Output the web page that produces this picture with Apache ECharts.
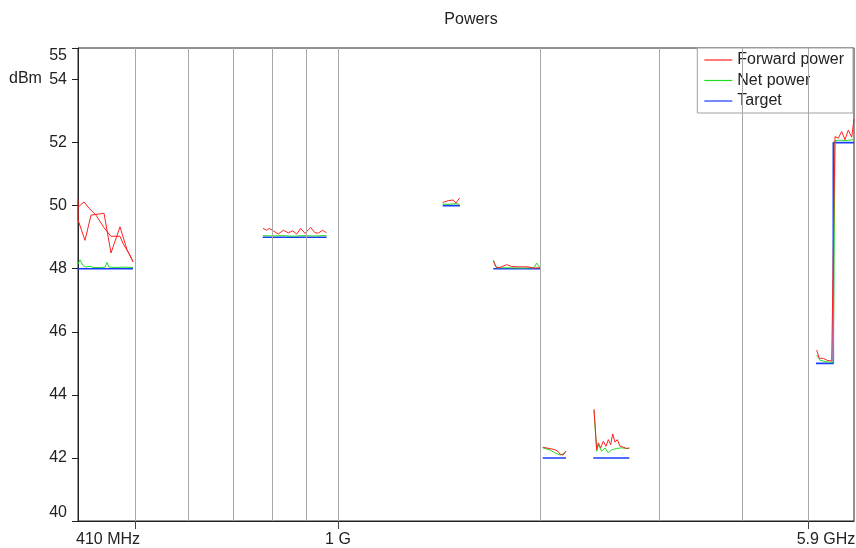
<!DOCTYPE html>
<html>
<head>
<meta charset="utf-8">
<script src="https://cdn.jsdelivr.net/npm/echarts@6/dist/echarts.min.js"></script>
<style>
  html, body { margin: 0; padding: 0; background: #fff; }
  #chart { width: 856px; height: 548px; }
</style>
</head>
<body>
<div id="chart"></div>
<script>
// x is the sweep position along the measurement run; labels mark the band edges
const gridLinesX = [57, 110, 155, 194, 228, 260, 462, 581, 664, 730];
const tickX = [57, 260, 730];
const tickLabels = ['410 MHz', '1 G', '5.9 GHz'];

const forwardSegs = [
  [[0, 49.95], [6, 50.12], [11, 49.92], [18, 49.7], [26, 49.3], [33, 49.03], [42, 49.03], [45, 48.8], [52, 48.43], [55, 48.22],
   [55, 48.2], [49, 48.6], [42, 49.33], [33, 48.5], [26, 49.76], [13, 49.7], [7, 48.9], [0, 49.55], [0, 50.2]],
  [[185, 49.28], [188.7, 49.22], [191.3, 49.28], [195.3, 49.2], [200.3, 49.1], [205.3, 49.22], [210.3, 49.14], [214.7, 49.2],
   [218.7, 49.1], [222.7, 49.28], [227, 49.12], [232.7, 49.31], [237, 49.14], [240.3, 49.13], [244.7, 49.22], [248.5, 49.14]],
  [[364.7, 50.1], [370.3, 50.16], [375.3, 50.18], [378, 50.08], [381.5, 50.24]],
  [[415.3, 48.25], [418, 48.05], [422, 48.04], [428.7, 48.13], [433.7, 48.07], [440, 48.06], [450, 48.06], [455, 48.02], [462, 48.03]],
  [[464.7, 42.34], [471, 42.3], [476, 42.27], [480, 42.21], [482, 42.12], [485, 42.09], [488, 42.21]],
  [[516, 43.55], [518.7, 42.26], [520.3, 42.48], [522.7, 42.32], [525.3, 42.53], [528, 42.37], [530.3, 42.58], [532.7, 42.42],
   [534.7, 42.76], [537, 42.5], [539.3, 42.58], [542, 42.37], [545.3, 42.34], [548.7, 42.3], [551.3, 42.32]],
  [[738.7, 45.42], [741.3, 45.16], [745.3, 45.16], [748.7, 45.1], [753.7, 45.07], [755.3, 45.05], [757, 52.19], [760.3, 52.14],
   [763.7, 52.35], [767, 52.09], [770.3, 52.4], [773.7, 52.17], [776, 52.75]]
];

const netSegs = [
  [[0, 48.15], [2, 48.28], [5, 48.1], [8, 48.05], [12, 48.08], [15, 48.04], [22, 48.04], [27, 48.05], [29, 48.2], [31, 48.05],
   [38, 48.04], [45, 48.05], [55, 48.04]],
  [[185, 49.05], [195, 49.04], [205, 49.05], [215, 49.03], [225, 49.05], [235, 49.04], [248.5, 49.05]],
  [[364.7, 50.05], [370, 50.04], [376, 50.06], [381.5, 50.05]],
  [[415.3, 48.27], [418.7, 48.03], [430, 48.03], [445, 48.02], [456, 48.03], [458.7, 48.18], [462, 48.03]],
  [[464.7, 42.32], [472, 42.25], [477, 42.16], [482, 42.09], [485, 42.13], [488, 42.22]],
  [[516, 43.5], [518.7, 42.21], [520.3, 42.42], [523.7, 42.21], [527, 42.32], [530.3, 42.16], [533.7, 42.26], [538.7, 42.3],
   [543.7, 42.32], [548.7, 42.3], [551.3, 42.3]],
  [[738.7, 45.26], [742, 45.1], [748, 45.05], [755.3, 45.03], [757, 52.06], [762, 52.08], [767, 52.06], [772, 52.08], [776, 52.1]]
];

const targetSegs = [
  [[0, 48], [55, 48]],
  [[184.7, 49], [248.7, 49]],
  [[364.7, 50], [382, 50]],
  [[415.3, 48], [462, 48]],
  [[464.7, 42], [488, 42]],
  [[515.3, 42], [551.3, 42]],
  [[738, 45], [755.3, 45], [755.3, 52], [776, 52]]
];

// join segments with a break point so the line is not drawn across gaps
function joinSegs(segs) {
  const out = [];
  segs.forEach((seg, i) => {
    if (i > 0) out.push([seg[0][0], '-']);
    seg.forEach(p => out.push(p));
  });
  return out;
}

const font = 'Liberation Sans, Arial, sans-serif';
const chart = echarts.init(document.getElementById('chart'));

chart.setOption({
  animation: false,
  textStyle: { fontFamily: font },
  title: {
    text: 'Powers',
    left: 466,
    top: 7,
    textAlign: 'center',
    textStyle: { fontSize: 16, fontWeight: 'normal', color: '#222', fontFamily: font }
  },
  legend: {
    data: ['Forward power', 'Net power', 'Target'],
    orient: 'vertical',
    right: 3,
    top: 48,
    icon: 'rect',
    itemWidth: 28,
    itemHeight: 1.2,
    itemGap: 4.5,
    padding: [4, 9, 4, 7],
    backgroundColor: '#fff',
    borderColor: '#a0a0a0',
    borderWidth: 1,
    borderRadius: 0,
    textStyle: { fontSize: 16, color: '#222', fontFamily: font }
  },
  graphic: [{
    type: 'text',
    left: 9,
    top: 71,
    style: { text: 'dBm', fontSize: 16, fill: '#222', fontFamily: font }
  }],
  grid: {
    left: 78,
    right: 2,
    top: 48,
    bottom: 27,
    outerBoundsMode: 'none',
    containLabel: false,
    show: true,
    borderColor: '#222',
    borderWidth: 1
  },
  xAxis: {
    type: 'value',
    min: 0,
    max: 776,
    axisLine: { lineStyle: { color: '#222' } },
    splitLine: { show: false },
    axisTick: { customValues: tickX, length: 8, lineStyle: { color: '#444' } },
    axisLabel: {
      customValues: tickX,
      margin: 11,
      fontSize: 16,
      color: '#222',
      formatter: v => {
        const i = tickX.indexOf(v);
        if (i === 0) return '{l|' + tickLabels[i] + '}';
        if (i === tickX.length - 1) return '{r|' + tickLabels[i] + '}';
        return tickLabels[i];
      },
      rich: {
        l: { fontSize: 16, color: '#222', fontFamily: font, padding: [0, 54, 0, 0] },
        r: { fontSize: 16, color: '#222', fontFamily: font, padding: [0, 0, 0, 36] }
      }
    }
  },
  yAxis: {
    type: 'value',
    min: 40,
    max: 55,
    interval: 2,
    axisLine: { show: true, lineStyle: { color: '#222' } },
    axisTick: { show: true, length: 6, lineStyle: { color: '#222' } },
    splitLine: { show: false },
    axisLabel: {
      fontSize: 16,
      color: '#222',
      margin: 11,
      verticalAlignMinLabel: 'bottom',
      verticalAlignMaxLabel: 'top'
    }
  },
  series: [
    {
      name: 'gridlines',
      type: 'line',
      data: [],
      silent: true,
      z: 1,
      markLine: {
        silent: true,
        symbol: ['none', 'none'],
        label: { show: false },
        lineStyle: { color: '#a8a8a8', type: 'solid', width: 1 },
        data: gridLinesX.map(x => ({ xAxis: x }))
      }
    },
    {
      name: 'Target',
      type: 'line',
      data: joinSegs(targetSegs),
      symbol: 'none',
      z: 2,
      color: '#1a3cff',
      lineStyle: { width: 1.6, color: '#1a3cff' }
    },
    {
      name: 'Net power',
      type: 'line',
      data: joinSegs(netSegs),
      symbol: 'none',
      z: 3,
      color: '#22dd22',
      lineStyle: { width: 1, color: '#22dd22' }
    },
    {
      name: 'Forward power',
      type: 'line',
      data: joinSegs(forwardSegs),
      symbol: 'none',
      z: 4,
      color: '#ff2020',
      lineStyle: { width: 1, color: '#ff2020' }
    }
  ]
});
</script>
</body>
</html>
